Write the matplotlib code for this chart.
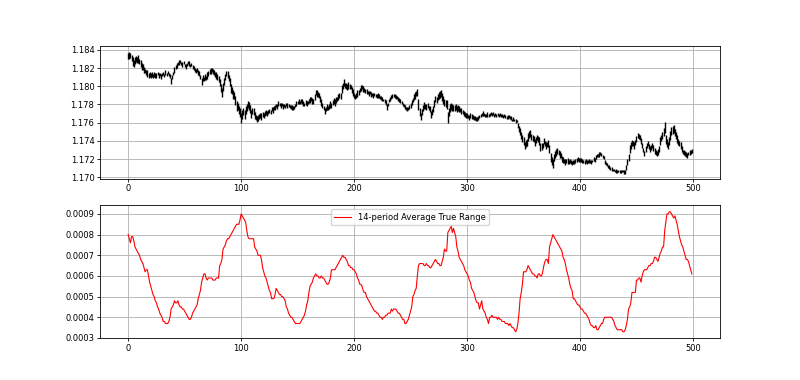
import numpy as np
import matplotlib
matplotlib.use("Agg")
import matplotlib.pyplot as plt

# Price midpoints, pips above 1.1700
mid_pips = [
    133,134,134,131,127,125,128,130,129,130,127,125,122,121,118,117,115,114,112,113,112,113,111,113,112,
    112,114,112,113,111,113,114,112,115,113,115,113,111,106,110,114,118,121,123,125,126,127,125,124,126,
    123,122,124,126,125,123,124,121,120,118,117,118,115,114,110,105,109,108,110,109,112,114,116,117,118,
    116,115,113,112,110,108,104,98,93,99,105,110,114,113,109,105,98,95,91,90,84,78,78,74,71,
    65,69,72,69,74,77,80,78,75,70,73,72,68,66,64,65,67,68,67,69,68,70,71,70,72,
    73,72,75,74,76,77,79,78,81,80,79,80,78,79,78,80,79,79,78,77,77,76,77,79,81,
    82,83,82,84,83,81,80,82,81,82,84,85,86,84,83,88,93,92,91,90,86,82,79,76,73,
    75,77,76,78,80,79,82,84,82,85,86,88,90,89,97,100,104,101,100,99,101,100,99,96,93,
    90,88,90,92,93,96,98,99,97,96,95,94,93,92,93,91,91,90,91,90,89,90,89,88,87,
    86,85,84,82,77,80,84,86,88,89,90,89,88,88,86,85,84,82,80,79,77,76,75,76,77,
    79,82,85,88,90,92,93,80,72,67,72,76,79,78,77,79,76,75,69,72,75,81,86,85,88,
    90,91,92,88,85,82,81,80,66,72,76,78,77,76,76,77,75,76,75,74,73,72,70,69,68,
    68,67,66,68,67,66,65,65,64,64,65,67,68,69,70,69,68,68,69,68,69,70,69,70,68,
    69,68,69,68,69,68,68,67,68,67,66,66,67,66,65,63,64,63,62,62,57,53,50,46,43,
    40,35,37,38,44,47,48,44,43,42,38,41,44,42,40,33,34,35,40,37,35,36,37,31,22,
    18,15,22,25,27,29,27,25,24,20,19,18,17,18,18,17,18,17,16,17,17,18,19,20,19,
    19,19,18,17,17,18,17,17,18,17,17,18,20,19,22,24,24,25,26,25,23,22,17,15,14,
    12,11,10,9,8,8,7,7,6,7,6,6,7,7,6,6,11,17,22,31,35,38,37,35,38,
    42,46,45,44,40,35,30,26,31,35,37,34,31,33,35,32,29,27,26,28,31,40,43,46,50,
    55,42,38,35,40,46,51,52,53,49,46,42,39,37,35,31,28,27,26,25,24,26,27,28,29,
]

# High-low range of each bar, pips
range_pips = [
    7,7,6,7,10,7,8,6,7,8,6,7,8,6,7,5,6,7,5,6,5,6,4,5,6,
    5,4,5,4,5,4,3,4,5,3,4,3,4,7,5,4,6,4,5,4,5,3,4,5,4,
    4,5,3,4,5,4,3,4,5,4,5,4,5,6,5,8,6,5,6,5,7,6,5,6,5,
    6,5,6,7,6,7,8,9,10,9,8,7,6,8,7,9,10,8,9,7,10,11,8,9,10,
    11,9,8,10,9,8,7,9,8,9,7,8,7,6,7,6,5,6,7,5,6,5,6,5,4,
    5,4,5,6,4,5,4,5,6,4,5,4,5,4,3,4,5,4,3,4,5,4,3,4,5,
    4,5,4,5,6,5,4,6,5,4,5,6,5,6,5,7,6,7,6,5,6,7,6,5,6,
    5,6,5,6,7,6,5,6,7,6,5,7,6,7,8,7,8,6,7,6,7,6,5,6,7,
    6,5,6,7,6,5,6,5,6,5,4,5,4,5,4,5,4,5,4,3,4,5,4,3,4,
    4,3,4,5,6,4,3,4,5,4,3,4,4,3,4,5,4,3,4,3,4,3,4,3,4,
    5,6,5,6,7,6,7,11,9,8,7,6,7,6,7,6,5,7,8,6,7,8,7,6,7,
    8,7,8,9,8,7,8,9,12,9,8,7,8,7,6,7,6,7,6,5,6,5,6,5,6,
    5,4,5,6,5,4,5,4,5,4,5,4,3,4,5,4,3,4,5,4,3,4,3,4,3,
    4,3,4,3,4,3,4,3,3,4,3,4,3,3,4,3,4,3,4,3,6,7,8,7,8,
    9,8,7,8,9,7,8,7,6,7,8,7,6,7,8,9,7,6,7,6,7,6,7,8,10,
    9,10,8,7,8,7,6,7,6,7,6,5,6,5,6,5,4,5,4,5,4,5,4,5,4,
    4,5,4,3,4,5,4,3,4,3,4,3,4,5,4,3,4,5,4,3,4,3,4,3,4,
    3,4,3,4,3,2,3,4,3,2,3,3,2,3,4,5,6,7,8,9,8,7,6,7,6,
    7,6,5,6,7,6,5,6,7,6,5,6,7,6,5,6,7,6,5,6,7,8,7,8,9,
    12,10,9,8,9,10,9,8,9,8,7,8,7,6,7,6,5,6,5,6,5,4,5,4,5,
]

# 14-period ATR, units of 1e-5
atr_e5 = [
    80,78,76,79,79,77,74,73,72,71,70,68,67,66,64,62,63,63,60,57,55,53,51,50,48,
    47,45,44,42,41,40,38,38,37,37,37,38,40,44,45,46,48,47,47,48,46,45,45,44,44,
    43,42,41,40,39,39,40,42,43,44,45,46,49,51,53,57,59,61,61,59,58,59,59,59,59,
    58,58,58,59,59,59,65,66,68,73,74,75,77,78,78,79,80,81,82,83,84,85,85,85,87,
    90,89,88,87,86,82,79,78,78,78,78,78,74,73,72,70,70,70,68,64,62,60,59,57,55,
    53,52,49,49,49,51,54,53,52,51,51,50,50,49,48,45,44,42,41,40,40,39,38,37,37,
    37,37,37,38,39,40,41,43,46,48,52,55,56,57,59,60,61,60,60,59,59,60,59,59,58,
    57,56,56,57,59,63,63,63,63,64,65,66,67,68,69,70,69,69,68,67,65,65,64,64,63,
    63,62,61,59,58,56,56,55,53,52,52,50,49,48,47,46,45,44,43,43,42,42,41,40,40,
    39,40,40,41,41,42,42,42,44,43,44,44,44,43,42,42,41,40,39,39,37,37,38,39,41,
    43,45,50,51,53,54,60,65,66,66,66,66,65,65,66,65,65,64,64,65,66,67,68,67,66,
    66,65,65,67,69,73,72,72,81,82,83,84,81,83,81,79,74,72,69,68,67,66,65,63,62,
    61,60,58,57,54,53,52,50,48,47,47,44,46,48,44,43,42,40,39,37,40,40,41,40,40,
    40,40,39,40,39,39,38,38,38,37,37,37,36,37,36,35,35,34,33,34,37,42,49,52,56,
    62,62,62,63,65,64,63,62,61,61,60,60,59,61,61,60,60,62,65,67,68,68,66,74,76,
    78,80,79,78,77,76,75,74,73,72,69,68,66,63,61,59,56,54,53,49,49,48,47,46,46,
    45,44,44,43,42,42,41,40,39,37,36,36,35,35,36,34,34,35,36,37,37,39,40,40,40,
    40,40,40,40,39,38,36,35,34,34,34,34,34,33,33,34,36,39,44,45,47,52,52,52,52,
    58,58,59,59,57,60,62,63,63,63,64,65,65,66,66,67,69,69,68,67,69,71,72,74,74,
    82,86,90,90,91,91,90,89,88,89,87,85,82,79,77,75,74,72,70,68,68,67,65,63,61,
]

base_price = 1.17
legend_label = "14-period Average True Range"

mid = base_price + np.array(mid_pips, dtype=float) * 1e-4
rng = np.array(range_pips, dtype=float) * 1e-4
high = mid + rng / 2
low = mid - rng / 2
atr = np.array(atr_e5, dtype=float) * 1e-5
idx = np.arange(len(mid))

plt.rcParams.update({
    "font.size": 6,
    "axes.linewidth": 0.6,
    "xtick.major.width": 0.6,
    "ytick.major.width": 0.6,
    "xtick.major.size": 2,
    "ytick.major.size": 2,
    "xtick.major.pad": 2,
    "ytick.major.pad": 2,
    "grid.linewidth": 0.6,
    "legend.fontsize": 6,
})

fig, (ax1, ax2) = plt.subplots(2, 1, figsize=(8, 3.8), dpi=100)

ax1.vlines(idx, low, high, color="black", linewidth=1.0)
ax1.grid(True)
ax1.set_ylim(1.16986, 1.18447)
ax1.set_yticks([1.170, 1.172, 1.174, 1.176, 1.178, 1.180, 1.182, 1.184])
ax1.set_yticklabels(["1.170", "1.172", "1.174", "1.176", "1.178", "1.180", "1.182", "1.184"])

ax2.plot(idx, atr, color="red", linewidth=0.8, label=legend_label)
ax2.grid(True)
ax2.set_ylim(0.000299, 0.000942)
ax2.set_yticks([0.0003, 0.0004, 0.0005, 0.0006, 0.0007, 0.0008, 0.0009])
ax2.set_yticklabels(["0.0003", "0.0004", "0.0005", "0.0006", "0.0007", "0.0008", "0.0009"])
ax2.legend(loc="upper center")

for ax in (ax1, ax2):
    ax.set_xticks([0, 100, 200, 300, 400, 500])

fig.savefig("out.png", dpi=100)
